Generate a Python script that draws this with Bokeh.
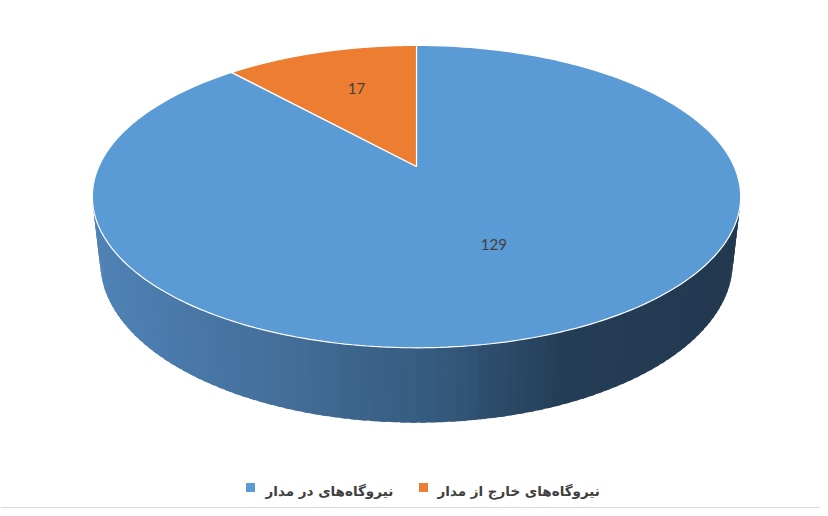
import numpy as np
from bokeh.core.properties import value
from bokeh.embed import file_html
from bokeh.models import ColumnDataSource, Span
from bokeh.plotting import figure
from bokeh.resources import INLINE

categories = ["نیروگاه‌های در مدار", "نیروگاه‌های خارج از مدار"]
counts = [129, 17]
slice_colors = ["#5b9bd5", "#ed7d31"]

# camera fitted to the picture: tilted disc seen in perspective
CX, CY = 416, 166
TILT = np.radians(27.2)
DIST = 4.47
SCALE = 1420
DEPTH = 0.234


def project(theta, r=1.0, height=0.0):
    """Project a point of the disc (angle clockwise from the back) to page pixels."""
    X = r * np.sin(theta)
    Z = r * np.cos(theta)
    yc = height * np.cos(TILT) + Z * np.sin(TILT)
    zc = DIST + Z * np.cos(TILT) - height * np.sin(TILT)
    return CX + SCALE * X / zc, CY - SCALE * yc / zc


def side_color(x):
    stops_x = [92, 300, 430, 560, 740]
    stops = np.array([
        [80, 131, 183],
        [66, 109, 151],
        [54, 91, 128],
        [37, 62, 87],
        [34, 57, 80],
    ])
    rgb = [int(np.interp(x, stops_x, stops[:, k])) for k in range(3)]
    return "#%02x%02x%02x" % tuple(rgb)


p = figure(
    width=820,
    height=508,
    x_range=(0, 820),
    y_range=(508, 0),
    x_axis_type=None,
    y_axis_type=None,
    output_backend="svg",
    toolbar_location=None,
    min_border=0,
)
p.grid.visible = False
p.outline_line_color = None
p.background_fill_color = "white"

# side wall: overlapping strips from back to front
thetas = np.linspace(0, 2 * np.pi, 241)
step = thetas[1] - thetas[0]
strips = []
for t0 in thetas[:-1]:
    t1 = t0 + step * 1.6
    mid = t0 + 0.5 * step
    if np.cos(mid) > 0.3:
        continue
    xa, ya = project(t0)
    xb, yb = project(t1)
    xc, yc = project(t1, height=-DEPTH)
    xd, yd = project(t0, height=-DEPTH)
    strips.append((np.cos(mid), [xa, xb, xc, xd], [ya, yb, yc, yd], side_color(0.5 * (xa + xb))))
strips.sort(key=lambda s: -s[0])
side_source = ColumnDataSource(data=dict(
    xs=[s[1] for s in strips],
    ys=[s[2] for s in strips],
    color=[s[3] for s in strips],
))
p.patches("xs", "ys", source=side_source, fill_color="color", line_color=None)

# top face slices
total = sum(counts)
ends = np.cumsum(counts) / total * 2 * np.pi
starts = np.concatenate([[0], ends[:-1]])
slice_xs, slice_ys = [], []
for a0, a1 in zip(starts, ends):
    arc = np.linspace(a0, a1, 300)
    ax, ay = project(arc)
    slice_xs.append([CX] + list(ax))
    slice_ys.append([CY] + list(ay))
top_source = ColumnDataSource(data=dict(xs=slice_xs, ys=slice_ys, color=slice_colors))
p.patches("xs", "ys", source=top_source, fill_color="color", line_color="white", line_width=1.2)

# data labels
label_r = [0.52, 0.64]
label_shift = [12, 5]
lx, ly = [], []
for a0, a1, r, dx in zip(starts, ends, label_r, label_shift):
    x, y = project(0.5 * (a0 + a1), r=r)
    lx.append(x + dx)
    ly.append(y)
p.text(
    x=lx, y=ly, text=[str(c) for c in counts],
    text_font=value("Lato"), text_font_size="15px", text_color="#404040",
    text_align="center", text_baseline="middle",
)

# legend
legend_marker_x = [250, 423]
legend_text_x = [265, 437]
p.scatter(x=legend_marker_x, y=[487, 487], marker="square", size=9,
          fill_color=slice_colors, line_color=None)
p.text(
    x=legend_text_x, y=[490, 490], text=categories,
    text_font=value("DejaVu Sans"), text_font_style="bold", text_font_size="13.5px",
    text_color="#404040", text_align="left", text_baseline="middle",
)

p.add_layout(Span(location=507, dimension="width", line_color="#d9d9d9", line_width=1))

open("out.html", "w").write(file_html(p, INLINE))
